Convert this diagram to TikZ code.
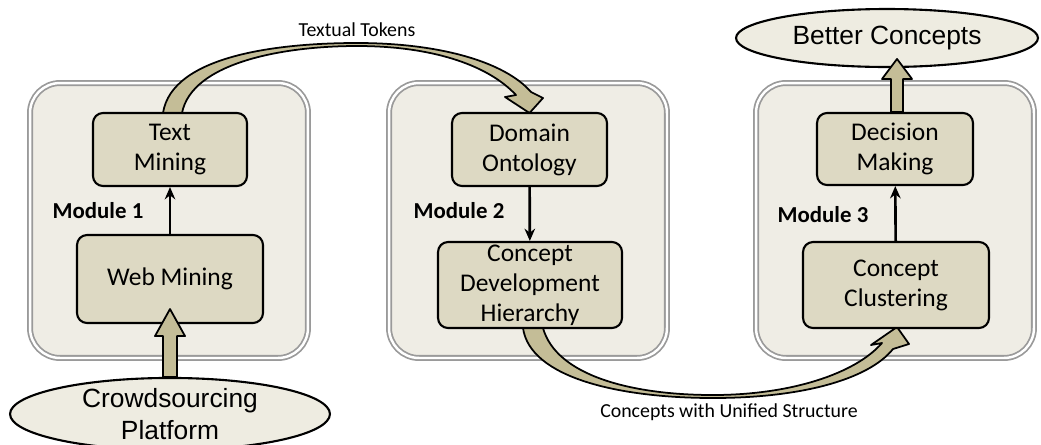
\documentclass[tikz,border=0pt]{standalone}
\usepackage{fontspec}
\setmainfont{Carlito}
\newfontfamily\arialfont{Liberation Sans}
\usepackage{xcolor}
\definecolor{ModFill}  {HTML}{EFEDE5}
\definecolor{ModLine}  {HTML}{9A9A9A}
\definecolor{StepFill} {HTML}{DDD9C3}
\definecolor{FlowFill} {HTML}{C4BD97}
\definecolor{EndFill}  {HTML}{EEECE1}
\usetikzlibrary{arrows.meta,positioning,shapes.geometric,calc}
\tikzset{
  modbox/.style={rectangle,rounded corners=0.6cm,
    draw=ModLine,double=white,double distance=1.4pt,line width=1pt,
    fill=ModFill,minimum width=5.56cm,minimum height=5.5cm},
  stepbox/.style={rectangle,rounded corners=0.2cm,
    draw=black,line width=1.2pt,fill=StepFill,align=center,
    inner sep=0pt,font=\fontsize{14.5}{17}\selectfont},
  endnode/.style={ellipse,draw=black,line width=1.2pt,
    fill=EndFill,align=center,inner sep=0pt,
    font=\arialfont\fontsize{15}{18}\selectfont},
  modlabel/.style={font=\bfseries\fontsize{13}{15}\selectfont},
  flowlabel/.style={font=\fontsize{11.3}{13}\selectfont},
  stepedge/.style={-{Stealth[length=7pt,width=6pt]},line width=1.5pt},
  fatedge/.style={draw=black,line width=1pt,fill=FlowFill,line join=round},
}

\begin{document}
\begin{tikzpicture}[x=0.02cm,y=-0.02cm]
  \clip (0,0) rectangle (1041,444);
  % modules
  \node[modbox](M1)at(169,220.5){};
  \node[modbox](M2)at(528,220.5){};
  \node[modbox](M3)at(895,220.5){};
  % curved flows between modules
  \coordinate (TTa) at (170,113);
  \draw[fatedge]($(TTa)+(-7,0)$)
    .. controls (172,55) and (280,43) .. (357,43)
    .. controls (440,43) and (505,62) .. (531,92)
    -- (543,98) -- (529.5,113) -- (505,97) -- (516,95)
    .. controls (487,64) and (430,46) .. (357,46)
    .. controls (285,46) and (192,62) .. ($(TTa)+(12,0)$) -- cycle;
  \coordinate (CUa) at (530,328);
  \draw[fatedge]($(CUa)+(-7,0)$)
    .. controls (530,378) and (620,398) .. (713,398)
    .. controls (800,398) and (868,380) .. (893,349)
    -- (909,344) -- (897,327) -- (871,345) -- (882,343)
    .. controls (855,374) and (790,395) .. (713,395)
    .. controls (630,395) and (556,375) .. ($(CUa)+(13,0)$) -- cycle;
  % steps
  \node[stepbox,minimum width=3.08cm,minimum height=1.46cm](TM)at(170,149.5)
    {Text\\Mining};
  \node[stepbox,minimum width=3.72cm,minimum height=1.76cm](WM)at(170,279)
    {Web Mining};
  \node[stepbox,minimum width=3.1cm,minimum height=1.46cm](DO)at(529.5,149.5)
    {Domain\\Ontology};
  \node[stepbox,minimum width=3.68cm,minimum height=1.72cm](CDH)at(530,285)
    {Concept\\Development\\Hierarchy};
  \node[stepbox,minimum width=3.12cm,minimum height=1.44cm](DM)at(895,149)
    {Decision\\Making};
  \node[stepbox,minimum width=3.72cm,minimum height=1.72cm](CC)at(896,285)
    {Concept\\Clustering};
  \draw[stepedge](WM)--(TM);
  \draw[stepedge](DO)--(CDH);
  \draw[stepedge](CC)--(DM);
  % module labels
  \node[modlabel](L1)at(98,211){Module 1};
  \node[modlabel](L2)at(459,211){Module 2};
  \node[modlabel](L3)at(823,215){Module 3};
  % input and output
  \node[endnode,minimum width=6.4cm,minimum height=1.44cm](CP)at(170,414)
    {Crowdsourcing\\Platform};
  \node[endnode,minimum width=6.04cm,minimum height=1.16cm](BC)at(887,38)
    {Better Concepts};
  \draw[fatedge]($(CP.north)+(-7,0)$) -- ($(WM.south)+(-7,12)$)
    -- ($(WM.south)+(-15,12)$) -- ($(WM.south)+(0,-15)$)
    -- ($(WM.south)+(15,12)$) -- ($(WM.south)+(7,12)$)
    -- ($(CP.north)+(7,0)$) -- cycle;
  \draw[fatedge]($(DM.north)+(-4,0)$) -- ($(DM.north)+(-4,-33)$)
    -- ($(DM.north)+(-13,-33)$) -- ($(DM.north)+(2,-53)$)
    -- ($(DM.north)+(17,-33)$) -- ($(DM.north)+(8,-33)$)
    -- ($(DM.north)+(8,0)$) -- cycle;
  % flow labels
  \node[flowlabel](TT)at(357,30){Textual Tokens};
  \node[flowlabel](CU)at(729,412){Concepts with Unified Structure};
\end{tikzpicture}
\end{document}
